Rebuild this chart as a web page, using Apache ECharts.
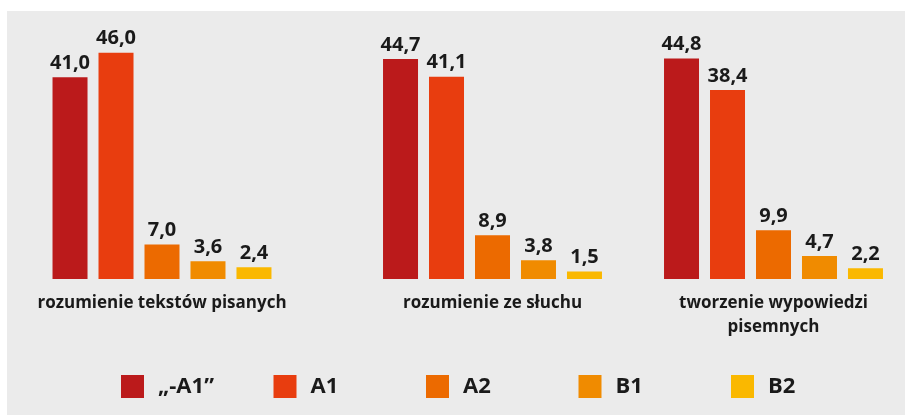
<!DOCTYPE html>
<html>
<head>
<meta charset="utf-8">
<script src="https://cdn.jsdelivr.net/npm/echarts@6/dist/echarts.min.js"></script>
<style>
  html, body { margin: 0; padding: 0; background: #ebebeb; }
  #chart { width: 905px; height: 415px; }
</style>
</head>
<body>
<div id="chart"></div>
<script>
// data
const categories = ['rozumienie tekstów pisanych', 'rozumienie ze słuchu', 'tworzenie wypowiedzi\npisemnych'];
const levels = ['„-A1”', 'A1', 'A2', 'B1', 'B2'];
const belowA1 = [41.0, 44.7, 44.8];
const levelA1 = [46.0, 41.1, 38.4];
const levelA2 = [7.0, 8.9, 9.9];
const levelB1 = [3.6, 3.8, 4.7];
const levelB2 = [2.4, 1.5, 2.2];

const levelValues = [belowA1, levelA1, levelA2, levelB1, levelB2];
const colors = ['#bb1a1b', '#e83d0f', '#ec6a00', '#f08b00', '#fab800'];
const groupCenters = [162, 492.5, 782];
const groupWidth = 280;

const chart = echarts.init(document.getElementById('chart'));
const fontFamily = '"Open Sans", sans-serif';

const grids = [], xAxes = [], yAxes = [], series = [];
categories.forEach((cat, gi) => {
    grids.push({
        left: groupCenters[gi] - groupWidth / 2,
        width: groupWidth,
        top: 33,
        bottom: 136
    });
    xAxes.push({
        type: 'category',
        gridIndex: gi,
        data: [cat],
        axisLine: { show: false },
        axisTick: { show: false },
        axisLabel: {
            margin: 12,
            color: '#1a1a1a',
            fontFamily: fontFamily,
            fontSize: 17,
            fontWeight: 'bold',
            lineHeight: 24
        }
    });
    yAxes.push({
        type: 'value',
        gridIndex: gi,
        min: 0,
        max: 50,
        show: false,
        splitLine: { show: false }
    });
    levels.forEach((lvl, li) => {
        series.push({
            type: 'bar',
            name: lvl,
            xAxisIndex: gi,
            yAxisIndex: gi,
            data: [levelValues[li][gi]],
            barWidth: 35,
            barGap: '31.4%',
            itemStyle: { color: colors[li] },
            label: {
                show: true,
                position: 'top',
                distance: 4,
                color: '#1a1a1a',
                fontFamily: fontFamily,
                fontSize: 20,
                fontWeight: 'bold',
                formatter: p => p.value.toFixed(1).replace('.', ',')
            }
        });
    });
});

// one legend per level so the items sit at even steps
const legends = levels.map((lvl, li) => ({
    data: [lvl],
    left: 121 + li * 152.5,
    top: 375,
    padding: 0,
    itemWidth: 23,
    itemHeight: 23,
    icon: 'rect',
    selectedMode: false,
    textStyle: {
        color: '#1a1a1a',
        fontFamily: fontFamily,
        fontSize: 22,
        fontWeight: 'bold',
        padding: [0, 0, 0, 9]
    }
}));

const option = {
    animation: false,
    // white margin strips at top and left, the rest of the page is grey
    graphic: [{
        type: 'rect',
        silent: true,
        shape: { x: 0, y: 0, width: 905, height: 11 },
        style: { fill: '#ffffff' }
    }, {
        type: 'rect',
        silent: true,
        shape: { x: 0, y: 0, width: 7, height: 415 },
        style: { fill: '#ffffff' }
    }],
    grid: grids,
    xAxis: xAxes,
    yAxis: yAxes,
    legend: legends,
    series: series
};

chart.setOption(option);
</script>
</body>
</html>
